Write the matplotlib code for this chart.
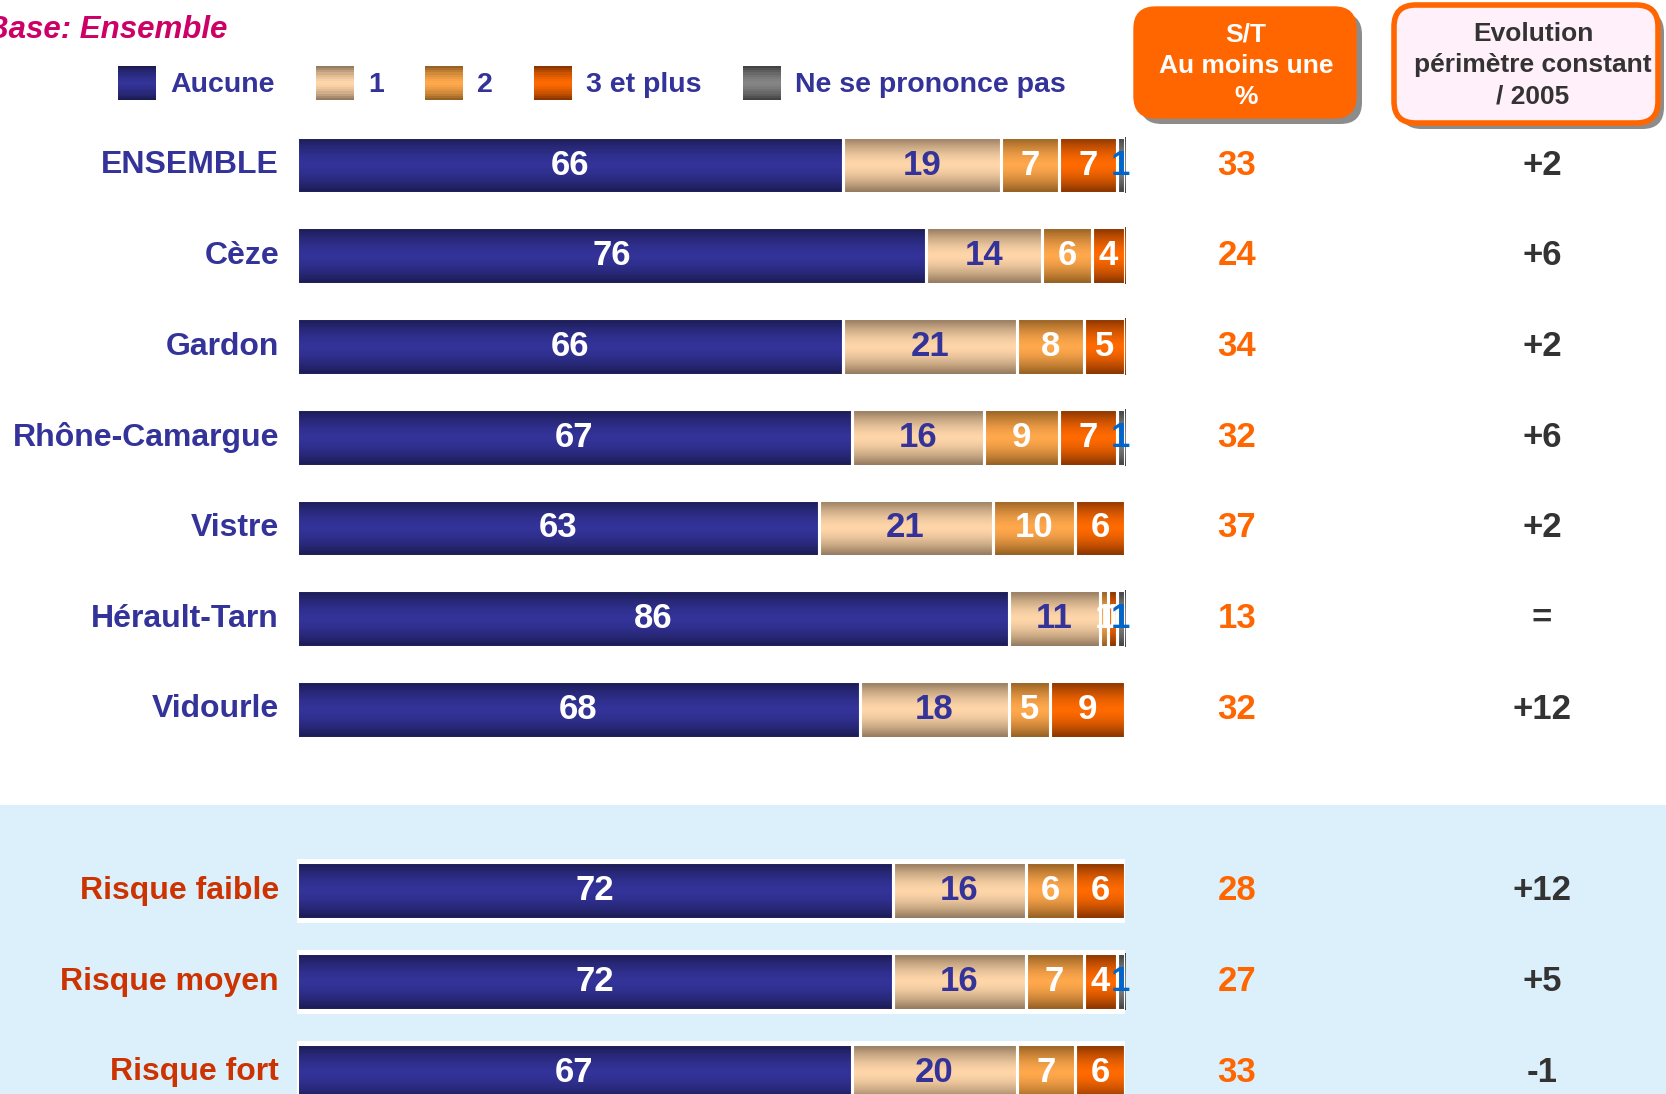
import numpy as np
import matplotlib
matplotlib.use('Agg')
import matplotlib.pyplot as plt
from matplotlib.patches import Rectangle, FancyBboxPatch, Patch
from matplotlib.legend_handler import HandlerBase
from matplotlib import transforms
from matplotlib.colors import to_rgb

plt.rcParams['font.family'] = ['Liberation Sans', 'DejaVu Sans']
plt.rcParams['font.weight'] = 'bold'

categories = ['ENSEMBLE', 'Cèze', 'Gardon', 'Rhône-Camargue', 'Vistre', 'Hérault-Tarn',
              'Vidourle', 'Risque faible', 'Risque moyen', 'Risque fort']
aucune = [66, 76, 66, 67, 63, 86, 68, 72, 72, 67]
un = [19, 14, 21, 16, 21, 11, 18, 16, 16, 20]
deux = [7, 6, 8, 9, 10, 1, 5, 6, 7, 7]
trois_plus = [7, 4, 5, 7, 6, 1, 9, 6, 4, 6]
nsp = [1, 0, 0, 1, 0, 1, 0, 0, 1, 0]
st = [33, 24, 34, 32, 37, 13, 32, 28, 27, 33]
evolution = ['+2', '+6', '+2', '+6', '+2', '=', '+12', '+12', '+5', '-1']

series_names = ['Aucune', '1', '2', '3 et plus', 'Ne se prononce pas']
series = [aucune, un, deux, trois_plus, nsp]
# (edge colour, middle colour) for the vertical gradient
grad_colors = [('#1a1a4e', '#333399'), ('#8a7258', '#ffd6aa'), ('#8b5a1f', '#ffa84c'),
               ('#7e3000', '#ff6a00'), ('#3c3c3c', '#858585')]
label_colors = ['white', '#333399', 'white', 'white', '#0066cc']

W, H = 1666, 1094
ypos = list(range(7)) + [8, 9, 10]
n_top = 7
bar_h = 0.625


def shade(edge, mid, t):
    e = np.array(to_rgb(edge))
    m = np.array(to_rgb(mid))
    return m + (e - m) * t ** 1.6


def grad_img(edge, mid, n=64):
    t = np.abs((np.arange(n) + 0.5) / n - 0.5) * 2
    return np.array([shade(edge, mid, v) for v in t]).reshape(n, 1, 3)


class GradHandler(HandlerBase):
    def __init__(self, edge, mid):
        super().__init__()
        self.edge = edge
        self.mid = mid

    def create_artists(self, legend, orig_handle, xdescent, ydescent, width, height, fontsize, trans):
        n = 16
        arts = []
        for i in range(n):
            t = abs((i + 0.5) / n - 0.5) * 2
            r = Rectangle((-xdescent, -ydescent + i * height / n), width, height / n * 1.05,
                          facecolor=shade(self.edge, self.mid, t), edgecolor='none', transform=trans)
            arts.append(r)
        return arts


fig = plt.figure(figsize=(W / 100, H / 100), dpi=100)
fig.patch.set_facecolor('white')
# light blue band behind the risk groups
fig.patches.append(Rectangle((0, 0), 1, 1 - 805 / H, transform=fig.transFigure,
                             facecolor='#dcf0fc', edgecolor='none', zorder=-1))

ax = fig.add_axes([297 / W, 0, 828 / W, 1])
ax.axis('off')

# white frame around bottom group bars
ax.barh(ypos[n_top:], 100, height=bar_h, color='white', edgecolor='white', linewidth=5, zorder=1)

lefts = np.zeros(len(categories))
for k, vals in enumerate(series):
    vals = np.array(vals, dtype=float)
    bars = ax.barh(ypos, vals, left=lefts, height=bar_h, facecolor='none',
                   edgecolor='white', linewidth=2.2, zorder=3)
    img = grad_img(*grad_colors[k])
    for b, v, y, l in zip(bars, vals, ypos, lefts):
        if v <= 0:
            continue
        im = ax.imshow(img, extent=[l, l + v, y + bar_h / 2, y - bar_h / 2],
                       aspect='auto', interpolation='bilinear', zorder=2)
        im.set_clip_path(b)
        ax.text(l + v / 2, y, f'{int(v)}', ha='center', va='center', fontsize=25,
                fontweight='bold', color=label_colors[k], zorder=4)
    lefts = lefts + vals

ax.set_xlim(0, 100)
ax.set_ylim(10.24, -1.82)

tr = transforms.blended_transform_factory(fig.transFigure, ax.transData)
for i, (cat, y) in enumerate(zip(categories, ypos)):
    c = '#333399' if i < n_top else '#cc3300'
    ax.text(279 / W, y, cat, transform=tr, ha='right', va='center', fontsize=23,
            fontweight='bold', color=c)
    ax.text(1237 / W, y, str(st[i]), transform=tr, ha='center', va='center', fontsize=25,
            fontweight='bold', color='#ff6600')
    ax.text(1542 / W, y, evolution[i], transform=tr, ha='center', va='center', fontsize=25,
            fontweight='bold', color='#333333')

# title
fig.text(227 / W, 1 - 30 / H, 'Base: Ensemble', ha='right', va='center', fontsize=22.5,
         fontweight='bold', style='italic', color='#cc0066')

# legend
handles = [Patch(facecolor=m) for _, m in grad_colors]
hmap = {h: GradHandler(e, m) for h, (e, m) in zip(handles, grad_colors)}
fig.legend(handles, series_names, handler_map=hmap, loc='center left',
           bbox_to_anchor=(118 / W, 1 - 83 / H), ncol=5, frameon=False,
           prop={'family': 'Liberation Sans', 'weight': 'bold', 'size': 20.5},
           labelcolor='#333399', handlelength=1.33, handleheight=1.45,
           handletextpad=0.5, columnspacing=1.45, borderpad=0, borderaxespad=0)


def header_box(x0, y0, x1, y1, face, edge, lw):
    asp = W / H
    sh = FancyBboxPatch(((x0 + 6) / W, 1 - (y1 + 6) / H), (x1 - x0) / W, (y1 - y0) / H,
                        boxstyle='round,pad=0,rounding_size=0.013', mutation_aspect=asp,
                        transform=fig.transFigure, facecolor='#8c8c8c', edgecolor='none', zorder=1)
    bx = FancyBboxPatch((x0 / W, 1 - y1 / H), (x1 - x0) / W, (y1 - y0) / H,
                        boxstyle='round,pad=0,rounding_size=0.013', mutation_aspect=asp,
                        transform=fig.transFigure, facecolor=face, edgecolor=edge,
                        linewidth=lw, zorder=2)
    fig.patches.extend([sh, bx])


header_box(1134, 7, 1356, 118, '#ff6600', '#ff6600', 1)
header_box(1394, 5, 1658, 123, '#fff0fa', '#ff6600', 4)
fig.text(1246 / W, 1 - 66 / H, 'S/T\nAu moins une\n%', ha='center', va='center', fontsize=19,
         fontweight='bold', color='white', linespacing=1.38, zorder=3)
fig.text(1533 / W, 1 - 65 / H, 'Evolution\npérimètre constant\n/ 2005', ha='center', va='center',
         fontsize=19, fontweight='bold', color='#333333', linespacing=1.38, zorder=3)

plt.savefig('out.png', dpi=100)
